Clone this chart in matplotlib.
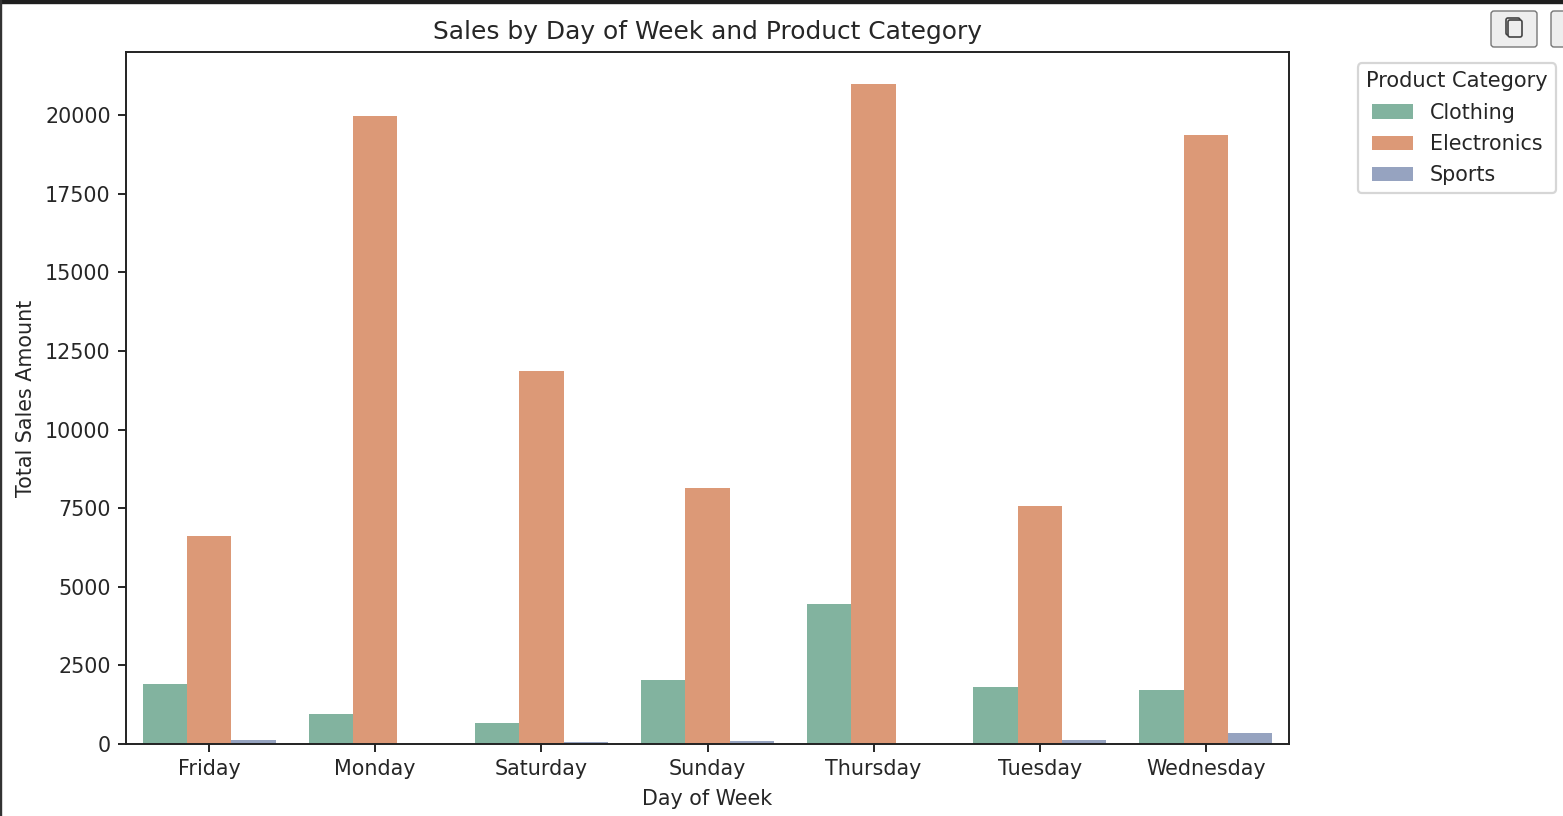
import numpy as np
import matplotlib
matplotlib.use('Agg')
import matplotlib.pyplot as plt
from matplotlib.patches import FancyBboxPatch, Rectangle

days = ['Friday', 'Monday', 'Saturday', 'Sunday', 'Thursday', 'Tuesday', 'Wednesday']
clothing = [1908, 954, 668, 2035, 4450, 1812, 1717]
electronics = [6614, 19970, 11860, 8140, 20985, 7568, 19365]
sports = [143, 0, 60, 95, 0, 143, 350]
categories = ['Clothing', 'Electronics', 'Sports']
colors = ['#82B39F', '#DC9977', '#96A3C0']
y_ticks = [0, 2500, 5000, 7500, 10000, 12500, 15000, 17500, 20000]

W, H = 1563, 816
text_color = '#262626'

fig = plt.figure(figsize=(W / 100, H / 100), dpi=100)
ax = fig.add_axes([126 / W, 1 - 744 / H, (1289 - 126) / W, (744 - 52) / H])

# grouped bars, same layout as seaborn's hue dodge
x = np.arange(len(days))
width = 0.8 / 3
for i, values in enumerate([clothing, electronics, sports]):
    ax.bar(x + (i - 1) * width, values, width, color=colors[i], label=categories[i],
           edgecolor='none')

ax.set_xlim(-0.5, 6.5)
ax.set_ylim(0, 22005)
ax.set_xticks(x)
ax.set_xticklabels(days)
ax.set_yticks(y_ticks)
ax.tick_params(labelsize=14.9, length=6, width=1.4, pad=5, colors=text_color)
for spine in ax.spines.values():
    spine.set_linewidth(1.4)
    spine.set_color('#222222')

ax.set_title('Sales by Day of Week and Product Category', fontsize=17.9, pad=9.5, color=text_color)
ax.set_xlabel('Day of Week', fontsize=14.9, labelpad=6.8, color=text_color)
ax.set_ylabel('Total Sales Amount', fontsize=14.9, labelpad=6.5, color=text_color)

legend = ax.legend(title='Product Category', loc='upper left',
                   bbox_to_anchor=(1.0543, 0.9925), borderaxespad=0.3,
                   fontsize=14.9, title_fontsize=15.1, labelcolor=text_color,
                   handlelength=1.97, handleheight=0.7, handletextpad=0.82,
                   labelspacing=0.55, borderpad=0.38)
legend.get_title().set_color(text_color)
legend.get_frame().set_linewidth(1.6)

# notebook screenshot edges and the copy button
fig.add_artist(Rectangle((0, 1 - 3 / H), 1, 3 / H, transform=fig.transFigure, color='#1e1e1e'))
fig.add_artist(Rectangle((0, 0), 1 / W, 1, transform=fig.transFigure, color='#333333'))
for bx in [1491, 1551]:
    fig.add_artist(FancyBboxPatch((bx, H - 47), 46, 36, boxstyle='round,pad=0,rounding_size=3',
                                  transform=None, facecolor='#eeeeee', edgecolor='#777777',
                                  linewidth=1))
fig.add_artist(FancyBboxPatch((1506, H - 35), 14, 17, boxstyle='round,pad=0,rounding_size=2',
                              transform=None, facecolor='#eeeeee', edgecolor='#444444', linewidth=1.2))
fig.add_artist(FancyBboxPatch((1508, H - 37), 14, 17, boxstyle='round,pad=0,rounding_size=2',
                              transform=None, facecolor='#eeeeee', edgecolor='#444444', linewidth=1.2))

fig.savefig('out.png', dpi=100)
